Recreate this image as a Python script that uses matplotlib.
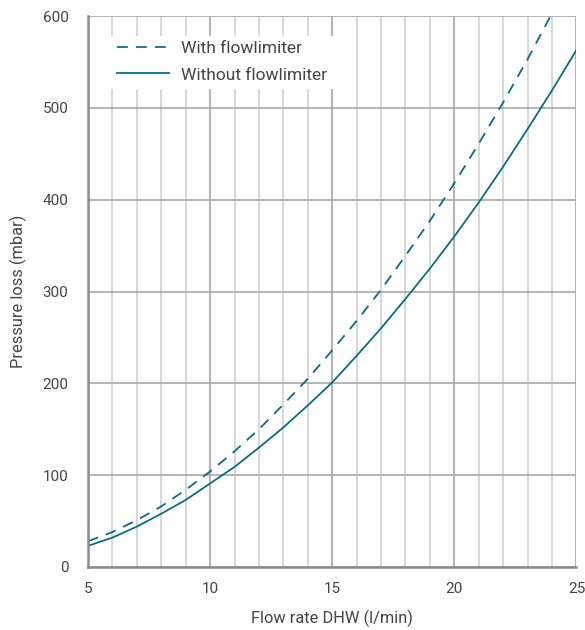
import matplotlib.pyplot as plt
from matplotlib.ticker import MultipleLocator

# flow rate (l/min) and pressure loss (mbar)
flow = [5, 6, 7, 8, 9, 10, 11, 12, 13, 14, 15, 16, 17, 18, 19, 20, 21, 22, 23, 24, 25]
without_limiter = [23, 32, 44, 58, 73, 91, 109, 130, 152, 176, 201, 230, 260, 292, 325,
                   360, 397, 436, 477, 519, 563]
flow_limited = flow[:20]
with_limiter = [28, 38, 51, 66, 84, 104, 126, 150, 177, 205, 236, 268, 302, 339, 377,
                418, 461, 506, 553, 603]

line_color = "#0b6a8c"
text_color = "#444444"

plt.rcParams["font.family"] = ["Roboto", "DejaVu Sans"]

fig = plt.figure(figsize=(5.85, 6.3), dpi=100)
ax = fig.add_axes([0.1504, 0.1, 0.835, 0.8746])

ax.set_xlim(5, 25)
ax.set_ylim(0, 600)
ax.xaxis.set_major_locator(MultipleLocator(5))
ax.xaxis.set_minor_locator(MultipleLocator(1))
ax.yaxis.set_major_locator(MultipleLocator(100))

ax.grid(which="minor", axis="x", color="#d4d4d4", linewidth=1.3)
ax.grid(which="major", axis="x", color="#b4b4b4", linewidth=1.5)
ax.grid(which="major", axis="y", color="#a8a8a8", linewidth=1.2)
ax.set_axisbelow(True)

for side in ["top", "right"]:
    ax.spines[side].set_visible(False)
for side in ["left", "bottom"]:
    ax.spines[side].set_color("#8c8c8c")
    ax.spines[side].set_linewidth(1.8)

ax.plot(flow_limited, with_limiter, color=line_color, linewidth=1.3,
        linestyle=(0, (6, 4.5)), label="With flowlimiter", clip_on=True)
ax.plot(flow, without_limiter, color=line_color, linewidth=1.3,
        label="Without flowlimiter")

ax.tick_params(which="both", length=0, colors=text_color, labelsize=11)
ax.tick_params(axis="x", pad=11)
ax.tick_params(axis="y", pad=14)

ax.set_xlabel("Flow rate DHW (l/min)", color=text_color, fontsize=11.8, labelpad=10)
ax.set_ylabel("Pressure loss (mbar)", color=text_color, fontsize=11.8, labelpad=11)

leg = ax.legend(loc="upper left", bbox_to_anchor=(0.03, 0.98), frameon=True,
                fancybox=False, framealpha=1, edgecolor="white", fontsize=12.5,
                handlelength=3.0, handletextpad=0.7, borderpad=0.3, labelspacing=0.65)
for t in leg.get_texts():
    t.set_color(text_color)

fig.savefig("out.png", dpi=100)
